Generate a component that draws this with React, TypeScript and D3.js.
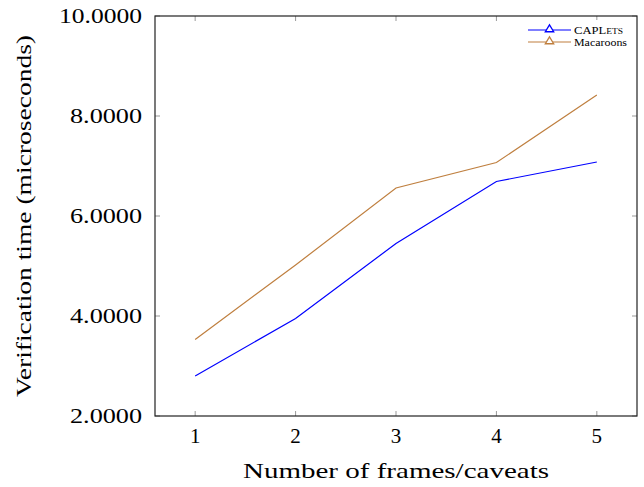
import React from "react";
import * as d3 from "d3";

const frames = [1, 2, 3, 4, 5];
const caplets = [2.8, 3.95, 5.45, 6.69, 7.08];
const macaroons = [3.53, 5.02, 6.56, 7.07, 8.42];
const yTicks = [2, 4, 6, 8, 10];

const W = 644, H = 487;
const L = 155, R = 637, T = 16, B = 416;
const FONT = "'Liberation Serif', 'DejaVu Serif', serif";

export default function App() {
  const x = d3.scaleLinear().domain([0.6, 5.4]).range([L, R]);
  const y = d3.scaleLinear().domain([2, 10]).range([B, T]);
  const line = d3.line<number>().x((_, i) => x(frames[i])).y((d) => y(d));
  const series = [
    { name: "caplets", data: caplets, color: "#0000ff" },
    { name: "macaroons", data: macaroons, color: "#bf7f3f" },
  ];
  const tri = (cx: number, cy: number) => {
    const s = 4.2;
    return `M${cx},${cy - s} L${cx + s},${cy + s * 0.65} L${cx - s},${cy + s * 0.65} Z`;
  };
  return (
    <svg width={W} height={H} style={{ position: "absolute", left: 0, top: 0 }}>
      <rect width={W} height={H} fill="white" />
      {frames.map((f) => (
        <g key={f} stroke="#999" strokeWidth={1}>
          <line x1={x(f)} x2={x(f)} y1={B} y2={B - 5} />
          <line x1={x(f)} x2={x(f)} y1={T} y2={T + 5} />
        </g>
      ))}
      {yTicks.map((t) => (
        <g key={t} stroke="#999" strokeWidth={1}>
          <line x1={L} x2={L + 5} y1={y(t)} y2={y(t)} />
          <line x1={R} x2={R - 5} y1={y(t)} y2={y(t)} />
        </g>
      ))}
      {series.map((s) => (
        <path key={s.name} d={line(s.data) || ""} fill="none" stroke={s.color} strokeWidth={1.2} />
      ))}
      <rect x={L} y={T} width={R - L} height={B - T} fill="none" stroke="#222" strokeWidth={1.2} />
      {frames.map((f) => (
        <text key={f} x={x(f)} y={B + 27} textAnchor="middle" fontFamily={FONT} fontSize={21}>
          {f}
        </text>
      ))}
      {yTicks.map((t) => (
        <text
          key={t}
          x={L - 13}
          y={y(t) + 7}
          textAnchor="end"
          fontFamily={FONT}
          fontSize={21}
          textLength={t >= 10 ? 83 : 72}
          lengthAdjust="spacingAndGlyphs"
        >
          {t.toFixed(4)}
        </text>
      ))}
      <text
        x={(L + R) / 2}
        y={478}
        textAnchor="middle"
        fontFamily={FONT}
        fontSize={21}
        textLength={306}
        lengthAdjust="spacingAndGlyphs"
      >
        Number of frames/caveats
      </text>
      <text
        transform={`translate(31, ${(T + B) / 2}) rotate(-90)`}
        textAnchor="middle"
        fontFamily={FONT}
        fontSize={21}
        textLength={362}
        lengthAdjust="spacingAndGlyphs"
      >
        Verification time (microseconds)
      </text>
      <g>
        <rect x={524} y={20} width={110} height={30} fill="white" />
        {series.map((s, i) => {
          const cy = 30 + i * 12;
          return (
            <g key={s.name}>
              <line x1={528} x2={571} y1={cy} y2={cy} stroke={s.color} strokeWidth={1.2} />
              <path d={tri(549.5, cy - 1)} fill="white" stroke={s.color} strokeWidth={1.3} />
              <text
                x={574}
                y={cy + 3.5}
                fontFamily={FONT}
                fontSize={10}
                textLength={i === 0 ? 49 : 53}
                lengthAdjust="spacingAndGlyphs"
              >
                {i === 0 ? (
                  <>
                    CAPL<tspan fontSize={7.5}>ETS</tspan>
                  </>
                ) : (
                  "Macaroons"
                )}
              </text>
            </g>
          );
        })}
      </g>
    </svg>
  );
}
